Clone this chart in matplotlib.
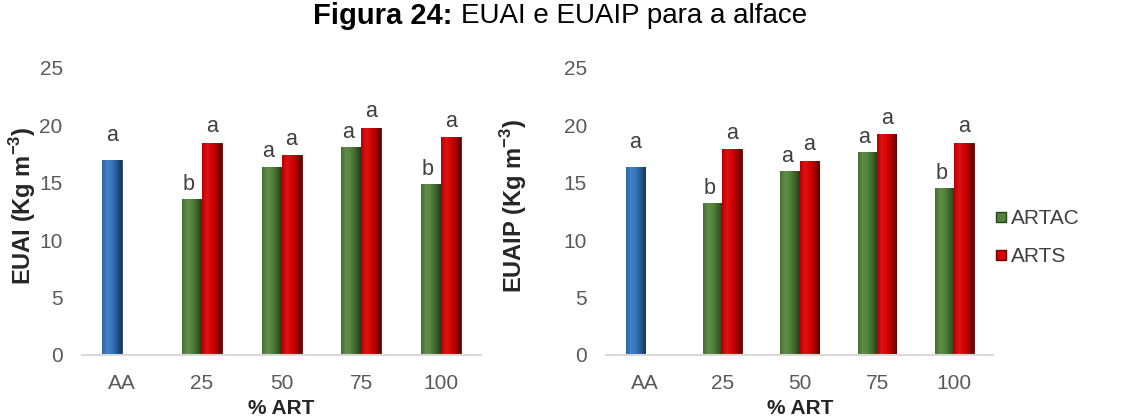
"""EUAI e EUAIP para a alface"""
import numpy as np
import matplotlib
matplotlib.use("Agg")
import matplotlib.pyplot as plt
from matplotlib.colors import to_rgb, LinearSegmentedColormap
from matplotlib.lines import Line2D

plt.rcParams['font.family'] = ['Liberation Sans', 'DejaVu Sans']
plt.rcParams['mathtext.fontset'] = 'custom'
plt.rcParams['mathtext.rm'] = 'Liberation Sans'
plt.rcParams['mathtext.bf'] = 'Liberation Sans:bold'

categories = ["AA", "25", "50", "75", "100"]

# EUAI (left panel); AA stored in first series, coloured blue
euai_artac = [17.0, 13.6, 16.4, 18.1, 14.9]
euai_arts = [None, 18.5, 17.4, 19.8, 18.95]
euai_artac_letters = ["a", "b", "a", "a", "b"]
euai_arts_letters = [None, "a", "a", "a", "a"]

# EUAIP (right panel)
euaip_artac = [16.35, 13.2, 16.0, 17.65, 14.5]
euaip_arts = [None, 17.9, 16.9, 19.2, 18.5]
euaip_artac_letters = ["a", "b", "a", "a", "b"]
euaip_arts_letters = [None, "a", "a", "a", "a"]

BLUE = "#3476c0"
GREEN = "#52833a"
RED = "#d80000"
TICK_COLOR = "#595959"


def shade(color, f):
    r, g, b = to_rgb(color)
    if f < 1:
        return (r * f, g * f, b * f)
    return (r + (1 - r) * (f - 1), g + (1 - g) * (f - 1), b + (1 - b) * (f - 1))


def gradient_bar(ax, x, h, w, color):
    bars = ax.bar(x, h, w, color=color, edgecolor=shade(color, 0.55), linewidth=0.6, zorder=2)
    cmap = LinearSegmentedColormap.from_list(
        "g", [shade(color, 0.85), shade(color, 1.08), color, shade(color, 0.75), shade(color, 0.45)])
    grad = np.linspace(0, 1, 64).reshape(1, -1)
    for p in bars:
        im = ax.imshow(grad, cmap=cmap, aspect="auto", zorder=2.5,
                       extent=(p.get_x(), p.get_x() + p.get_width(), 0, h))
        im.set_clip_path(p)
    return bars


def panel(ax, artac, arts, l_artac, l_arts, ylabel, label_x):
    w = 0.25
    x = np.arange(len(categories))
    for i in x:
        col = BLUE if i == 0 else GREEN
        gradient_bar(ax, i - w / 2, artac[i], w, col)
        if l_artac[i]:
            off = 10 if i == 0 else 3
            ax.annotate(l_artac[i], (i - w / 2 - (0 if i == 0 else 0.04), artac[i]),
                        xytext=(0, off), textcoords="offset points",
                        ha="center", va="bottom", fontsize=15.5, color="#404040")
        if arts[i] is not None:
            gradient_bar(ax, i + w / 2, arts[i], w, RED)
            ax.annotate(l_arts[i], (i + w / 2, arts[i]), xytext=(0, 4),
                        textcoords="offset points", ha="center", va="bottom",
                        fontsize=15.5, color="#404040")
    ax.set_xlim(-0.5, len(categories) - 0.5)
    ax.set_ylim(0, 25)
    ax.set_yticks([0, 5, 10, 15, 20, 25])
    ax.set_xticks(x)
    ax.set_xticklabels(categories)
    ax.tick_params(length=0, labelsize=15, labelcolor=TICK_COLOR)
    ax.tick_params(axis="y", pad=14)
    ax.tick_params(axis="x", pad=14)
    for s in ["top", "right", "left"]:
        ax.spines[s].set_visible(False)
    ax.spines["bottom"].set_color("#d9d9d9")
    ax.spines["bottom"].set_linewidth(1.5)
    ax.set_xlabel("% ART", fontsize=15, fontweight="bold", color="#262626", labelpad=4)
    ax.set_ylabel(ylabel, fontsize=17, fontweight="bold", color="#262626")
    ax.yaxis.set_label_coords(label_x, 0.52)


fig = plt.figure(figsize=(11.4, 4.19), dpi=100)
ax1 = fig.add_axes([0.072, 0.153, 0.350, 0.685])
ax2 = fig.add_axes([0.532, 0.153, 0.339, 0.685])

panel(ax1, euai_artac, euai_arts, euai_artac_letters, euai_arts_letters,
      "EUAI (Kg m$^{\\mathbf{-3}}$)", -0.11)
panel(ax2, euaip_artac, euaip_arts, euaip_artac_letters, euaip_arts_letters,
      "EUAIP (Kg m$^{\\mathbf{-3}}$)", -0.20)

handles = [Line2D([], [], marker="s", ls="", markersize=7.5, markerfacecolor=GREEN,
                  markeredgecolor=shade(GREEN, 0.5)),
           Line2D([], [], marker="s", ls="", markersize=7.5, markerfacecolor=RED,
                  markeredgecolor=shade(RED, 0.5))]
fig.legend(handles, ["ARTAC", "ARTS"], loc="center left", bbox_to_anchor=(0.857, 0.433),
           frameon=False, fontsize=15, handlelength=0.5, handletextpad=0.25,
           labelspacing=0.9, labelcolor="#404040")

fig.text(0.3965, 0.962, "Figura 24:", ha="right", va="center", fontsize=21, fontweight="bold")
fig.text(0.4045, 0.962, "EUAI e EUAIP para a alface", ha="left", va="center", fontsize=20)

fig.savefig("out.png", dpi=100)
